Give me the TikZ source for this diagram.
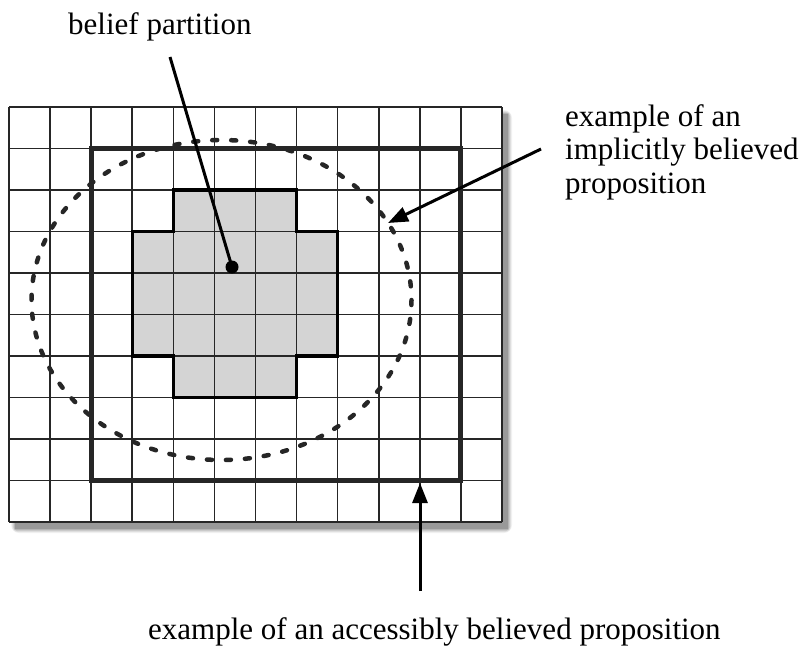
\documentclass[tikz,border=0pt]{standalone}
\usepackage{fontspec}
\setmainfont{Liberation Serif}
\usetikzlibrary{arrows.meta}
\tikzset{
  gridline/.style={line width=1.6pt, draw=black!85},
  outerbox/.style={line width=5pt, draw=black!85, line join=miter},
  crossbox/.style={line width=3.2pt, draw=black, line join=miter},
  crossfill/.style={fill=black!17},
  dashring/.style={line width=4.5pt, draw=black!85, line cap=round, dash pattern=on 5pt off 14pt},
  pointer/.style={line width=3pt, draw=black},
  arrowline/.style={line width=3pt, draw=black, -{Triangle[length=20pt,width=15pt]}},
  label/.style={font=\fontsize{31}{34}\selectfont, inner sep=0pt, anchor=base west}
}
\begin{document}
\begin{tikzpicture}[x=1pt,y=-1pt]
\useasboundingbox (0,0) rectangle (799,648);
\pgfmathsetmacro{\cw}{41.083}
\pgfmathsetmacro{\rh}{41.5}
% drop shadow
\foreach \e/\o in {8/0.05,6/0.07,4/0.09,2/0.12,0/0.15}{
  \fill[black, opacity=\o, rounded corners=\e pt] ({9+6-\e*0.5},{107+7-\e*0.5}) rectangle ({502+6+\e*0.5},{522+7+\e*0.5});
}
% sheet
\fill[white] (9,107) rectangle (502,522);
% gray cross fill
\fill[crossfill] ({9+4*\cw},{107+2*\rh}) -- ({9+7*\cw},{107+2*\rh}) -- ({9+7*\cw},{107+3*\rh}) -- ({9+8*\cw},{107+3*\rh})
  -- ({9+8*\cw},{107+6*\rh}) -- ({9+7*\cw},{107+6*\rh}) -- ({9+7*\cw},{107+7*\rh}) -- ({9+4*\cw},{107+7*\rh})
  -- ({9+4*\cw},{107+6*\rh}) -- ({9+3*\cw},{107+6*\rh}) -- ({9+3*\cw},{107+3*\rh}) -- ({9+4*\cw},{107+3*\rh}) -- cycle;
% grid
\foreach \i in {0,...,12}{ \draw[gridline] ({9+\i*\cw},107) -- ({9+\i*\cw},522); }
\foreach \j in {0,...,10}{ \draw[gridline] (9,{107+\j*\rh}) -- (502,{107+\j*\rh}); }
% cross outline
\draw[crossbox] ({9+4*\cw},{107+2*\rh}) -- ({9+7*\cw},{107+2*\rh}) -- ({9+7*\cw},{107+3*\rh}) -- ({9+8*\cw},{107+3*\rh})
  -- ({9+8*\cw},{107+6*\rh}) -- ({9+7*\cw},{107+6*\rh}) -- ({9+7*\cw},{107+7*\rh}) -- ({9+4*\cw},{107+7*\rh})
  -- ({9+4*\cw},{107+6*\rh}) -- ({9+3*\cw},{107+6*\rh}) -- ({9+3*\cw},{107+3*\rh}) -- ({9+4*\cw},{107+3*\rh}) -- cycle;
% accessible box
\draw[outerbox] ({9+2*\cw},{107+1*\rh}) rectangle ({9+11*\cw},{107+9*\rh});
% implicit belief ring
\draw[dashring] (221.5,300) ellipse [x radius=190, y radius=160];
% belief dot
\fill[black] (232,267) circle (6.5);
\coordinate (dot) at (232,267);
% labels
\node[label] (belief) at (68,34) {belief partition};
\node[label] (imp1) at (565,126) {example of an};
\node[label] (imp2) at (565,159.5) {implicitly believed};
\node[label] (imp3) at (565,193) {proposition};
\node[label] (acc) at (148,639) {example of an accessibly believed proposition};
% connectors
\coordinate (bpstart) at (170,57);
\draw[pointer] (bpstart) -- (dot);
\coordinate (impstart) at (541,149);
\coordinate (imptip) at (388,223);
\draw[arrowline] (impstart) -- (imptip);
\coordinate (accstart) at (420,591);
\coordinate (acctip) at (420,483);
\draw[arrowline] (accstart) -- (acctip);
\end{tikzpicture}
\end{document}
